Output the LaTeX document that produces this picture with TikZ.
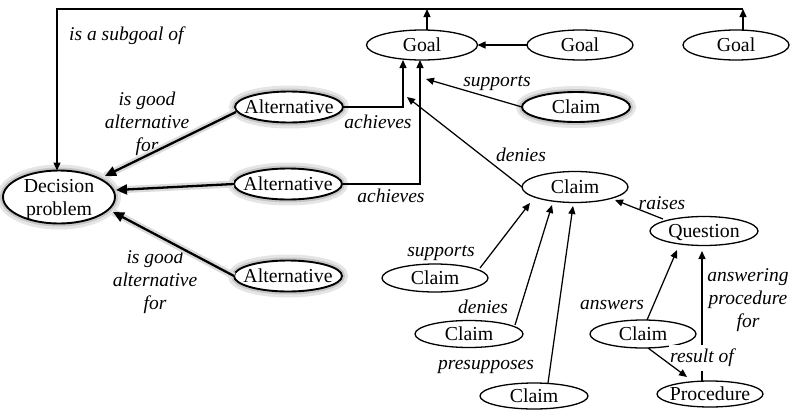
\documentclass[tikz,border=0pt]{standalone}
\usepackage{fontspec}
\setmainfont{Liberation Serif}
\usetikzlibrary{shapes.geometric,arrows.meta}

% text set inside an ellipse without widening it
\newcommand{\intext}[1]{\makebox[0pt]{\raisebox{-6.5pt}[0pt][0pt]{#1}}}

\begin{document}
\begin{tikzpicture}[x=1pt,y=-1pt,
  every node/.style={font=\fontsize{19.8}{22.5}\selectfont},
  ent/.style={ellipse, draw, line width=1.3pt, fill=white, inner sep=0pt,
    outer sep=0pt, minimum width=106pt, minimum height=29pt},
  hazy/.style={line width=1.9pt,
    preaction={draw=black!10, line width=12pt},
    preaction={draw=black!22, line width=6pt}},
  lab/.style={font=\fontsize{19.5}{23}\selectfont\itshape, inner sep=1pt, align=center},
  arr/.style={line width=1.25pt, -{Triangle[length=8pt,width=7pt]}},
  thickarr/.style={line width=2.3pt, -{Triangle[length=11pt,width=10pt]},
    preaction={draw=black!14, line width=7pt, -}},
]
\useasboundingbox (0,0) rectangle (790,410);

% entities
\node[ent, hazy, minimum width=112pt, minimum height=53pt] (dp) at (59,197)
  {\makebox[0pt]{\raisebox{-7.75pt}[0pt][0pt]{\begin{tabular}{@{}c@{}}Decision\\problem\end{tabular}}}};
\node[ent, hazy, minimum width=108pt, minimum height=31pt] (alt1) at (289,107) {\intext{Alternative}};
\node[ent, hazy, minimum width=108pt, minimum height=31pt] (alt2) at (288,184) {\intext{Alternative}};
\node[ent, hazy, minimum width=108pt, minimum height=31pt] (alt3) at (288,276) {\intext{Alternative}};
\node[ent, minimum width=111pt, minimum height=30pt] (goal1) at (422,45) {\intext{Goal}};
\node[ent, minimum height=30pt] (goal2) at (580,45) {\intext{Goal}};
\node[ent, minimum height=30pt] (goal3) at (736,45) {\intext{Goal}};
\node[ent, hazy, minimum width=108pt, minimum height=30pt] (claim2) at (576,107) {\intext{Claim}};
\node[ent, minimum height=31pt] (claim3) at (575,187) {\intext{Claim}};
\node[ent, minimum width=108pt, minimum height=29pt] (question) at (704,231) {\intext{Question}};
\node[ent, minimum height=28pt] (claim4) at (435,278) {\intext{Claim}};
\node[ent, minimum width=108pt, minimum height=27pt] (claim5) at (469,334) {\intext{Claim}};
\node[ent, minimum width=108pt, minimum height=26pt] (claim6) at (534,396) {\intext{Claim}};
\node[ent, minimum height=28pt] (claim7) at (643,334) {\intext{Claim}};
\node[ent, minimum height=26pt] (proc) at (710,394) {\intext{Procedure}};

% relation labels
\node[lab, anchor=west] (lsub) at (68,36) {is a subgoal of};
\node[lab] (lgood1) at (147,124) {is good\\alternative\\for};
\node[lab] (lgood2) at (155,282) {is good\\alternative\\for};
\node[lab] (lach1) at (378,122) {achieves};
\node[lab] (lach2) at (391,196) {achieves};
\node[lab] (lsup1) at (497,83) {supports};
\node[lab] (lden1) at (521,155) {denies};
\node[lab] (lrai) at (662,203) {raises};
\node[lab] (lsup2) at (441,253) {supports};
\node[lab] (lden2) at (483,307) {denies};
\node[lab] (lpre) at (486,367) {presupposes};
\node[lab] (lans) at (612,305) {answers};
\node[lab] (lapf) at (748,300) {answering\\procedure\\for};

% "is a subgoal of" bus along the top
\coordinate (bus) at (57,9);
\coordinate (g1up) at ([xshift=5]goal1.north);
\coordinate (g3up) at ([xshift=7]goal3.north);
\draw[arr] (g1up) -- (g1up |- bus);
\draw[arr] (g3up) -- (g3up |- bus);
\draw[arr] (g3up |- bus) -- (bus) -- (bus |- dp.north);

\draw[arr] (goal2) -- (goal1);

% achieves links and the claims aimed at them
\draw[arr] (alt1.east) -| ([xshift=-19]goal1.south);
\draw[arr] (alt2.east) -| ([xshift=-2]goal1.south);
\coordinate (ach1) at (407,97);
\coordinate (ach2) at (426,79);
\draw[arr] (claim2.west) -- (ach2);
\draw[arr] (claim3.west) -- (ach1);

% alternatives for the decision problem
\draw[thickarr] ([shift={(-53,5)}]alt1.center) -- ([shift={(46,-21)}]dp.center);
\draw[thickarr] (alt2.west) -- ([shift={(57,-7)}]dp.center);
\draw[thickarr] (alt3.west) -- ([shift={(54,15)}]dp.center);

% argumentation around the central claim
\draw[arr] ([shift={(-41,-12)}]question.center) -- ([shift={(40,13)}]claim3.center);
\draw[arr] ([shift={(45,-10)}]claim4.center) -- ([shift={(-45,16)}]claim3.center);
\draw[arr] ([shift={(46,-9)}]claim5.center) -- ([shift={(-23,18)}]claim3.center);
\draw[arr] ([xshift=14]claim6.north) -- ([shift={(-2,19)}]claim3.center);
\draw[arr] ([xshift=4]claim7.north) -- ([shift={(-27,19)}]question.center);
\coordinate (qin) at ([shift={(-2,20)}]question.center);
\draw[arr] (qin |- proc.north) -- (qin);

\node[lab, fill=white, inner ysep=4pt] (lres) at (702,358) {result of};
\draw[arr] ([xshift=5]claim7.south) -- ([shift={(-23,-17)}]proc.center);
\end{tikzpicture}
\end{document}
